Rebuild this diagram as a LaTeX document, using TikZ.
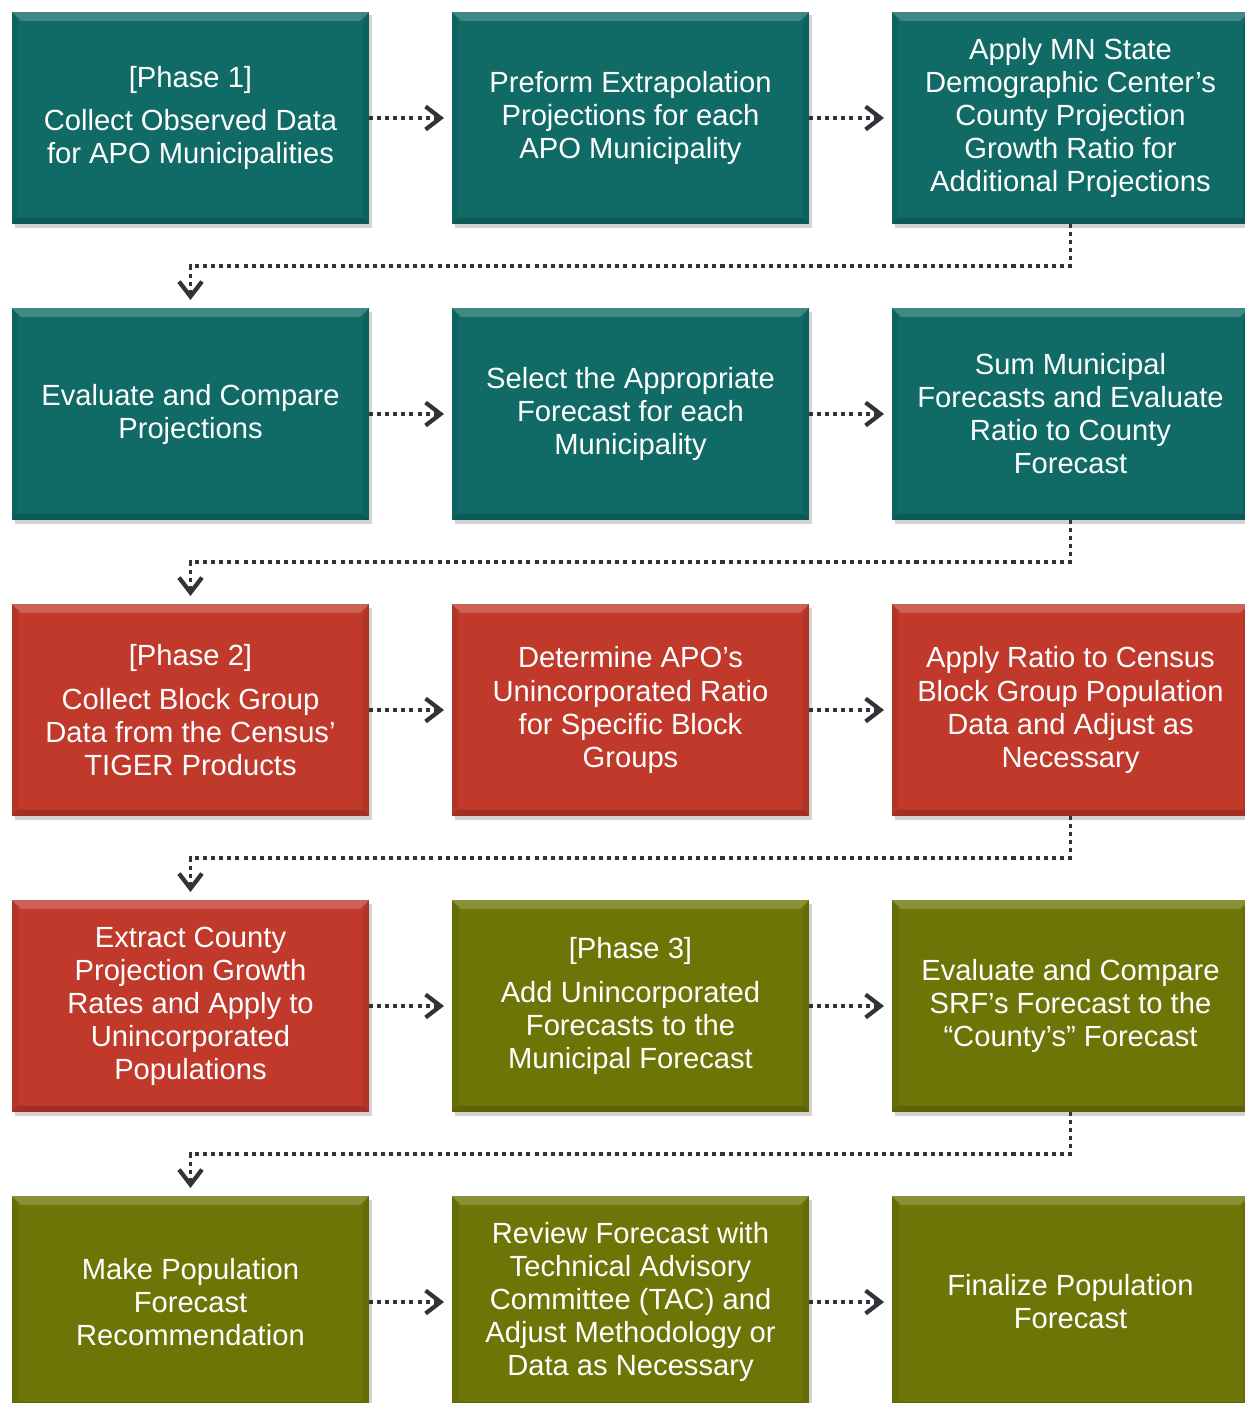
\documentclass[tikz,border=0pt]{standalone}
\usepackage{fontspec}
\setmainfont{Liberation Sans}
\usepackage{tikz}
\usetikzlibrary{positioning, arrows.meta, shadows}
\definecolor{tealbox}{RGB}{16,107,102}
\definecolor{redbox}{RGB}{192,57,43}
\definecolor{olivebox}{RGB}{110,117,7}
\definecolor{arrowgray}{RGB}{50,50,56}
\tikzstyle{stepbox} = [rectangle, minimum width=7.14cm, minimum height=4.24cm, outer sep=0pt, text centered, align=center, text=white, font=\fontsize{16.6}{18.8}\selectfont,
  drop shadow={shadow xshift=0.05cm, shadow yshift=-0.07cm, opacity=0.35},
  path picture={
    \fill[white, opacity=0.2] (path picture bounding box.north west) -- (path picture bounding box.north east) -- ([shift={(-0.18,-0.18)}]path picture bounding box.north east) -- ([shift={(0.18,-0.18)}]path picture bounding box.north west) -- cycle;
    \fill[black, opacity=0.16] (path picture bounding box.south west) -- (path picture bounding box.south east) -- ([shift={(-0.12,0.12)}]path picture bounding box.south east) -- ([shift={(0.12,0.12)}]path picture bounding box.south west) -- cycle;
    \fill[black, opacity=0.08] (path picture bounding box.north west) -- ([shift={(0.12,-0.18)}]path picture bounding box.north west) -- ([shift={(0.12,0.12)}]path picture bounding box.south west) -- (path picture bounding box.south west) -- cycle;
    \fill[black, opacity=0.08] (path picture bounding box.north east) -- ([shift={(-0.12,-0.18)}]path picture bounding box.north east) -- ([shift={(-0.12,0.12)}]path picture bounding box.south east) -- (path picture bounding box.south east) -- cycle;
  }]
\tikzstyle{phaseone} = [stepbox, fill=tealbox]
\tikzstyle{phasetwo} = [stepbox, fill=redbox]
\tikzstyle{phasethree} = [stepbox, fill=olivebox]
\tikzstyle{arrow} = [draw=arrowgray, line width=2.2pt, dash pattern=on 2.3pt off 2.3pt, -{Straight Barb[length=0.3cm, width=0.46cm, line width=2.4pt]}, shorten >=0.16cm]

\begin{document}
\begin{tikzpicture}[node distance=1.68cm and 1.66cm]
			\useasboundingbox (0,0) rectangle (24.88,-28.06);
			% Phase 1
			\node[phaseone] (1) at (3.81,-2.36) {[Phase 1]\\[6pt] Collect Observed Data\\ for APO Municipalities};
			\node[phaseone, right=of 1] (2) {Preform Extrapolation\\ Projections for each\\ APO Municipality};
			\node[phaseone, right=of 2] (3) {Apply MN State\\ Demographic Center's\\ County Projection\\ Growth Ratio for\\ Additional Projections};
			\node[phaseone, below=of 1] (4) {Evaluate and Compare\\ Projections};
			\node[phaseone, right=of 4] (5) {Select the Appropriate\\ Forecast for each\\ Municipality};
			\node[phaseone, right=of 5] (6) {Sum Municipal\\ Forecasts and Evaluate\\ Ratio to County\\ Forecast};
			% Phase 2
			\node[phasetwo, below=of 4] (7) {[Phase 2]\\[6pt] Collect Block Group\\ Data from the Census'\\ TIGER Products};
			\node[phasetwo, right=of 7] (8) {Determine APO's\\ Unincorporated Ratio\\ for Specific Block\\ Groups};
			\node[phasetwo, right=of 8] (9) {Apply Ratio to Census\\ Block Group Population\\ Data and Adjust as\\ Necessary};
			\node[phasetwo, below=of 7] (10) {Extract County\\ Projection Growth\\ Rates and Apply to\\ Unincorporated\\ Populations};
			% Phase 3
			\node[phasethree, right=of 10] (11) {[Phase 3]\\[6pt] Add Unincorporated\\ Forecasts to the\\ Municipal Forecast};
			\node[phasethree, right=of 11] (12) {Evaluate and Compare\\ SRF's Forecast to the\\ ``County's'' Forecast};
			\node[phasethree, below=of 10] (13) {Make Population\\ Forecast\\ Recommendation};
			\node[phasethree, right=of 13] (14) {Review Forecast with\\ Technical Advisory\\ Committee (TAC) and\\ Adjust Methodology or\\ Data as Necessary};
			\node[phasethree, right=of 14] (15) {Finalize Population\\ Forecast};

			\draw [arrow] (1) -- (2);
			\draw [arrow] (2) -- (3);
			\draw [arrow] (3.south) -- ++(0,-0.84) -| (4.north);
			\draw [arrow] (4) -- (5);
			\draw [arrow] (5) -- (6);
			\draw [arrow] (6.south) -- ++(0,-0.84) -| (7.north);
			\draw [arrow] (7) -- (8);
			\draw [arrow] (8) -- (9);
			\draw [arrow] (9.south) -- ++(0,-0.84) -| (10.north);
			\draw [arrow] (10) -- (11);
			\draw [arrow] (11) -- (12);
			\draw [arrow] (12.south) -- ++(0,-0.84) -| (13.north);
			\draw [arrow] (13) -- (14);
			\draw [arrow] (14) -- (15);
		\end{tikzpicture}
\end{document}
